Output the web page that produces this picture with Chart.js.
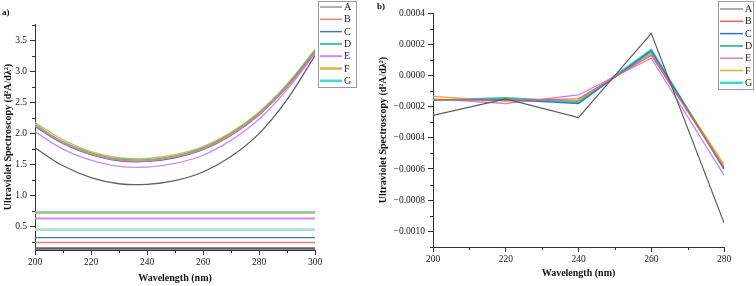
<!DOCTYPE html>
<html>
<head>
<meta charset="utf-8">
<script src="https://cdn.jsdelivr.net/npm/chart.js@4.4.0/dist/chart.umd.min.js"></script>
<style>
  html, body { margin: 0; padding: 0; background: #fff; }
  #wrap { position: relative; width: 756px; height: 286px; overflow: hidden; }
  #chartA { position: absolute; left: 0; top: 0; }
  #chartB { position: absolute; left: 376px; top: 0; }
</style>
</head>
<body>
<div id="wrap">
  <canvas id="chartA" width="378" height="286"></canvas>
  <canvas id="chartB" width="380" height="286"></canvas>
</div>
<script>
/* globals Chart:false */
const seriesNames = ["A", "B", "C", "D", "E", "F", "G"];

// panel a) - fitted curves, one value per 10 nm
const wavelengthA = [200, 210, 220, 230, 240, 250, 260, 270, 280, 290, 300];
const curveA = [1.77, 1.48, 1.29, 1.19, 1.18, 1.24, 1.38, 1.63, 2.00, 2.55, 3.26];
const curveB = [2.13, 1.85, 1.67, 1.57, 1.56, 1.62, 1.75, 1.98, 2.31, 2.75, 3.31];
const curveC = [2.12, 1.84, 1.66, 1.56, 1.55, 1.61, 1.74, 1.97, 2.30, 2.75, 3.32];
const curveD = [2.15, 1.87, 1.69, 1.59, 1.58, 1.64, 1.77, 2.00, 2.33, 2.78, 3.34];
const curveE = [2.03, 1.75, 1.57, 1.47, 1.46, 1.52, 1.65, 1.89, 2.23, 2.71, 3.29];
const curveF = [2.18, 1.90, 1.71, 1.61, 1.60, 1.66, 1.79, 2.02, 2.35, 2.80, 3.36];
const curveG = [2.11, 1.84, 1.66, 1.57, 1.56, 1.62, 1.75, 1.98, 2.31, 2.76, 3.33];
// flat levels drawn across panel a), A..G
const levelsA = [0.145, 0.24, 0.32, 0.45, 0.63, 0.716, 0.73];
const xTicksA = [200, 220, 240, 260, 280, 300];
const xMinorA = [210, 230, 250, 270, 290];
const yTicksA = [0.5, 1.0, 1.5, 2.0, 2.5, 3.0, 3.5];
const yMinorA = [0.25, 0.75, 1.25, 1.75, 2.25, 2.75, 3.25, 3.75];

// panel b) - second derivative at 20 nm steps
const wavelengthB = [200, 220, 240, 260, 280];
const derivA = [-0.000256, -0.000150, -0.000270, 0.000270, -0.000945];
const derivB = [-0.000155, -0.000160, -0.000150, 0.000130, -0.000590];
const derivC = [-0.000155, -0.000155, -0.000180, 0.000160, -0.000600];
const derivD = [-0.000160, -0.000145, -0.000170, 0.000150, -0.000590];
const derivE = [-0.000150, -0.000180, -0.000125, 0.000110, -0.000640];
const derivF = [-0.000135, -0.000165, -0.000160, 0.000140, -0.000570];
const derivG = [-0.000160, -0.000145, -0.000170, 0.000165, -0.000600];
const xTicksB = [200, 220, 240, 260, 280];
const xMinorB = [210, 230, 250, 270];
const yTicksB = [-0.0010, -0.0008, -0.0006, -0.0004, -0.0002, 0, 0.0002, 0.0004];
const yMinorB = [-0.0011, -0.0009, -0.0007, -0.0005, -0.0003, -0.0001, 0.0001, 0.0003];

const colorsA = ["#5f5f6b", "#f47c78", "#3b7db2", "#43c1a0", "#c490f0", "#e2b244", "#45d7cf"];
const colorsB = ["#5a5a5a", "#ef6259", "#2f78c8", "#40c095", "#c383f0", "#f4a62a", "#3fd5cd"];

const serif = "'Liberation Serif', 'Times New Roman', serif";
const axisColor = "#333";

function panelPlugin(cfg) {
  return {
    id: "panel" + cfg.tag,
    afterDraw(chart) {
      const ctx = chart.ctx;
      const xs = chart.scales.x;
      const ys = chart.scales.y;
      ctx.save();
      // minor ticks
      ctx.strokeStyle = axisColor;
      ctx.lineWidth = 1;
      ctx.beginPath();
      cfg.xMinor.forEach((v) => {
        const px = Math.round(xs.getPixelForValue(v)) + 0.5;
        ctx.moveTo(px, ys.bottom);
        ctx.lineTo(px, ys.bottom + 3);
      });
      cfg.yMinor.forEach((v) => {
        if (v < ys.min || v > ys.max) return;
        const py = Math.round(ys.getPixelForValue(v)) + 0.5;
        ctx.moveTo(xs.left, py);
        ctx.lineTo(xs.left - 3, py);
      });
      ctx.stroke();

      // legend box
      const lg = cfg.legend;
      ctx.fillStyle = "#fff";
      ctx.fillRect(lg.x, lg.y, lg.w, lg.h);
      ctx.strokeStyle = "#9a9a9a";
      ctx.strokeRect(lg.x + 0.5, lg.y + 0.5, lg.w, lg.h);
      ctx.font = "10px " + serif;
      ctx.textBaseline = "middle";
      seriesNames.forEach((name, i) => {
        const y = lg.row0 + i * lg.rowH;
        ctx.strokeStyle = cfg.colors[i];
        ctx.lineWidth = cfg.legendWidths[i];
        ctx.beginPath();
        ctx.moveTo(lg.line0, y);
        ctx.lineTo(lg.line1, y);
        ctx.stroke();
        ctx.fillStyle = "#222";
        ctx.fillText(name, lg.textX, y + 0.5);
      });

      // panel label
      ctx.font = "bold 9px " + serif;
      ctx.fillStyle = "#111";
      ctx.fillText(cfg.tag + ")", cfg.tagX, cfg.tagY);
      ctx.restore();
    },
  };
}

function axisTitle(text) {
  return {
    display: true,
    text: text,
    color: "#111",
    padding: 0,
    font: { family: serif, size: 10, weight: "bold" },
  };
}

function tickFont() {
  return { family: serif, size: 9.5 };
}

function axisBase() {
  return {
    type: "linear",
    grid: { drawOnChartArea: false, drawTicks: true, tickLength: 5, color: axisColor },
    border: { display: true, color: axisColor, width: 1 },
  };
}

// ---------- panel a)
const curvesA = [curveA, curveB, curveC, curveD, curveE, curveF, curveG];
const dataSetsA = [];
curvesA.forEach((vals, i) => {
  dataSetsA.push({
    label: seriesNames[i],
    data: wavelengthA.map((w, k) => ({ x: w, y: vals[k] })),
    borderColor: colorsA[i],
    borderWidth: 1.3,
    pointRadius: 0,
    tension: 0.4,
    fill: false,
  });
});
const levelWidths = [2.5, 1.5, 1.3, 2.8, 2, 1.3, 2];
levelsA.forEach((lv, i) => {
  dataSetsA.push({
    label: seriesNames[i] + " level",
    data: [{ x: 200, y: lv }, { x: 300, y: lv }],
    borderColor: i === 3 ? "#a8e2cf" : colorsA[i],
    borderWidth: levelWidths[i],
    pointRadius: 0,
    fill: false,
  });
});

new Chart(document.getElementById("chartA").getContext("2d"), {
  type: "line",
  data: { datasets: dataSetsA },
  options: {
    responsive: false,
    animation: false,
    layout: { padding: { left: 2, right: 63, top: 24, bottom: 2 } },
    plugins: { legend: { display: false }, tooltip: { enabled: false } },
    scales: {
      x: Object.assign(axisBase(), {
        min: 200,
        max: 300,
        afterBuildTicks: (s) => { s.ticks = xTicksA.map((v) => ({ value: v })); },
        afterFit: (s) => { s.height = 34; },
        ticks: { color: "#222", font: tickFont(), padding: 2, maxRotation: 0, callback: (v) => String(v) },
        title: axisTitle("Wavelength (nm)"),
      }),
      y: Object.assign(axisBase(), {
        min: 0.12,
        max: 3.77,
        afterBuildTicks: (s) => { s.ticks = yTicksA.map((v) => ({ value: v })); },
        afterFit: (s) => { s.width = 33; },
        ticks: { color: "#222", font: tickFont(), padding: 3, callback: (v) => Number(v).toFixed(1) },
        title: axisTitle("Ultraviolet Spectroscopy (d\u00B2A/d\u03BB\u00B2)"),
      }),
    },
  },
  plugins: [panelPlugin({
    tag: "a",
    tagX: 2,
    tagY: 13,
    xMinor: xMinorA,
    yMinor: yMinorA,
    colors: colorsA,
    legendWidths: [1, 1.5, 1.5, 2, 2, 2.5, 2.5],
    legend: { x: 318, y: 1, w: 38, h: 86, row0: 7, rowH: 12.3, line0: 320, line1: 342, textX: 344 },
  })],
});

// ---------- panel b)
const derivs = [derivA, derivB, derivC, derivD, derivE, derivF, derivG];
const lineWidthsB = [1.2, 1.3, 1.3, 1.5, 1.3, 1.3, 2];
const dataSetsB = derivs.map((vals, i) => ({
  label: seriesNames[i],
  data: wavelengthB.map((w, k) => ({ x: w, y: vals[k] })),
  borderColor: colorsB[i],
  borderWidth: lineWidthsB[i],
  pointRadius: 0,
  tension: 0,
  fill: false,
}));

new Chart(document.getElementById("chartB").getContext("2d"), {
  type: "line",
  data: { datasets: dataSetsB },
  options: {
    responsive: false,
    animation: false,
    layout: { padding: { left: 1, right: 32, top: 13, bottom: 7 } },
    plugins: { legend: { display: false }, tooltip: { enabled: false } },
    scales: {
      x: Object.assign(axisBase(), {
        min: 200,
        max: 280,
        afterBuildTicks: (s) => { s.ticks = xTicksB.map((v) => ({ value: v })); },
        afterFit: (s) => { s.height = 32; },
        ticks: { color: "#222", font: tickFont(), padding: 2, maxRotation: 0, callback: (v) => String(v) },
        title: axisTitle("Wavelength (nm)"),
      }),
      y: Object.assign(axisBase(), {
        min: -0.0011,
        max: 0.0004,
        afterBuildTicks: (s) => { s.ticks = yTicksB.map((v) => ({ value: v })); },
        afterFit: (s) => { s.width = 56; },
        ticks: {
          color: "#222",
          font: tickFont(),
          padding: 3,
          callback: (v) => (v < -1e-9 ? "\u2212" + Math.abs(v).toFixed(4) : Math.abs(v).toFixed(4)),
        },
        title: axisTitle("Ultraviolet Spectroscopy (d\u00B2A/d\u03BB\u00B2)"),
      }),
    },
  },
  plugins: [panelPlugin({
    tag: "b",
    tagX: 1,
    tagY: 7,
    xMinor: xMinorB,
    yMinor: yMinorB,
    colors: colorsB,
    legendWidths: [1, 1.5, 1.5, 2, 1.5, 1.5, 2.5],
    legend: { x: 342, y: 1, w: 35, h: 88, row0: 9, rowH: 12.3, line0: 344, line1: 367, textX: 369 },
  })],
});
</script>
</body>
</html>
